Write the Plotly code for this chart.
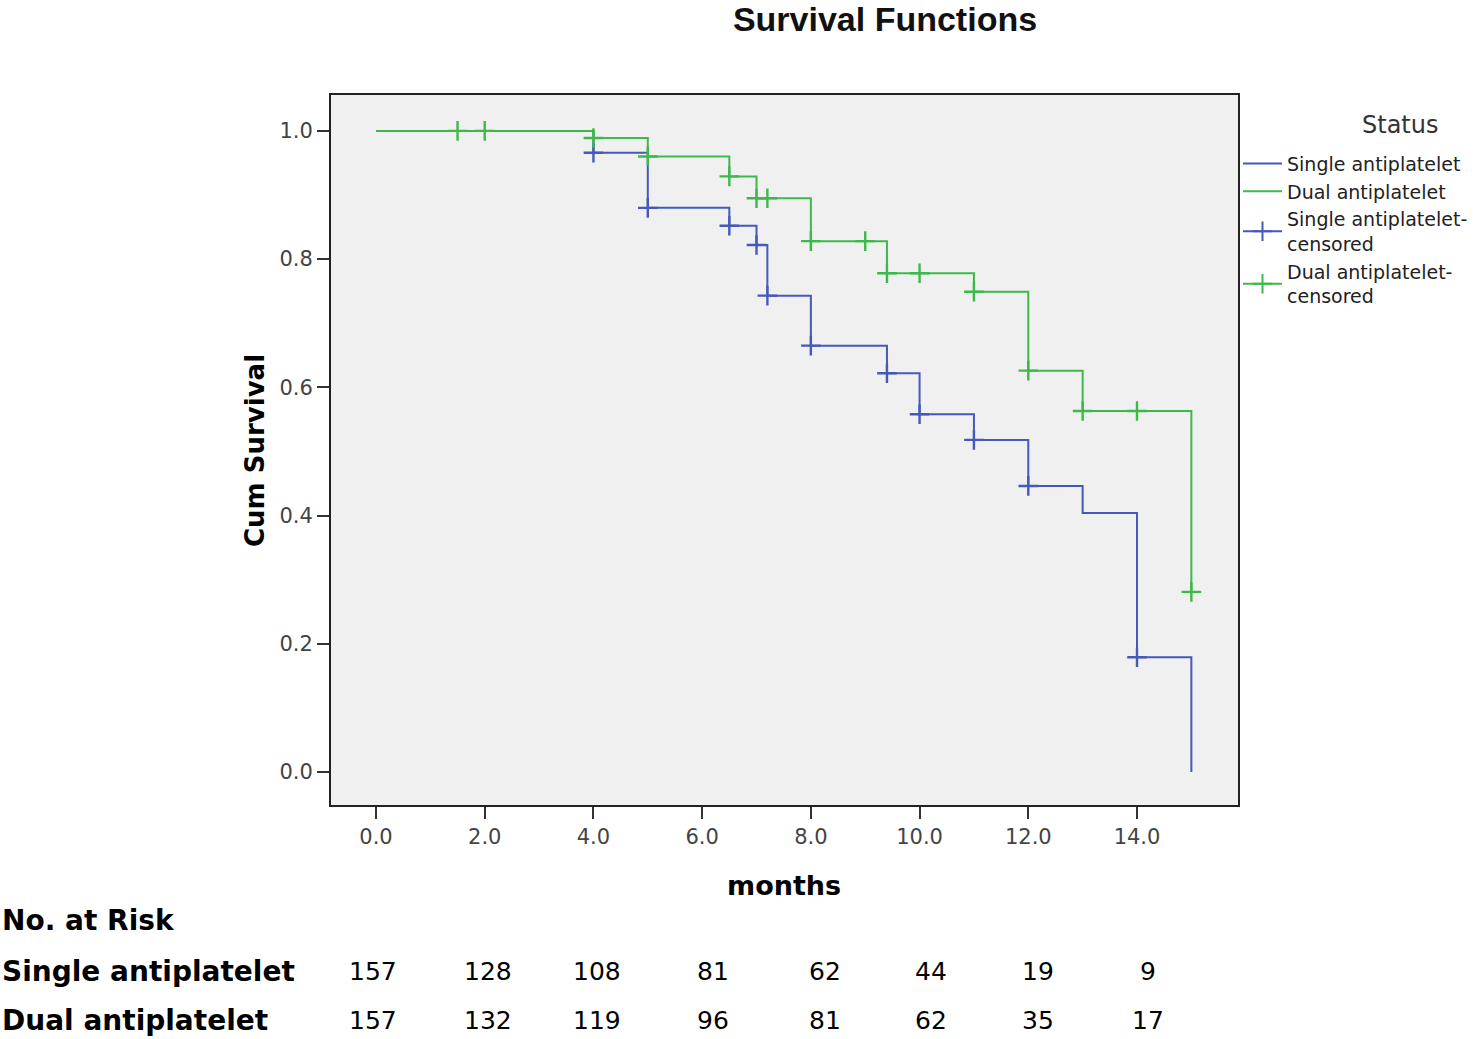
import plotly.graph_objects as go

# Kaplan-Meier steps
single_months = [0, 4, 5, 6.5, 7, 7.2, 8, 9.4, 10, 11, 12, 13, 14, 15]
single_surv = [1.0, 0.966, 0.880, 0.852, 0.822, 0.743, 0.665, 0.622, 0.558, 0.518, 0.446, 0.404, 0.179, 0.0]
single_censored = [4, 5, 6.5, 7, 7.2, 8, 9.4, 10, 11, 12, 14]

dual_months = [0, 4, 5, 6.5, 7, 8, 9.4, 11, 12, 13, 15]
dual_surv = [1.0, 0.989, 0.960, 0.929, 0.895, 0.828, 0.778, 0.749, 0.626, 0.563, 0.281]
dual_censored = [1.5, 2, 4, 5, 6.5, 7, 7.2, 8, 9, 9.4, 10, 11, 12, 13, 14, 15]

risk_months = [0, 2, 4, 6, 8, 10, 12, 14]
risk_single = [157, 128, 108, 81, 62, 44, 19, 9]
risk_dual = [157, 132, 119, 96, 81, 62, 35, 17]

x_ticks = [0, 2, 4, 6, 8, 10, 12, 14]
y_ticks = [0.0, 0.2, 0.4, 0.6, 0.8, 1.0]

BLUE = '#4459b8'
GREEN = '#3cb94a'

W, H = 1482, 1039
risk_xshift = [-3, 3, 4, 11, 14, 11, 10, 11]  # column nudges of the risk table


def step_value(t, times, surv):
    # survival value of the step function at time t
    v = surv[0]
    for tt, s in zip(times, surv):
        if tt <= t:
            v = s
    return v


fig = go.Figure()

fig.add_trace(go.Scatter(x=single_months, y=single_surv, mode='lines', line_shape='hv',
                         line=dict(color=BLUE, width=2), name='Single antiplatelet'))
fig.add_trace(go.Scatter(x=dual_months, y=dual_surv, mode='lines', line_shape='hv',
                         line=dict(color=GREEN, width=2), name='Dual antiplatelet'))

cross = dict(symbol='cross-thin', size=14)
fig.add_trace(go.Scatter(x=single_censored,
                         y=[step_value(t, single_months, single_surv) for t in single_censored],
                         mode='markers', showlegend=False,
                         marker=dict(**cross, line=dict(color=BLUE, width=2.4))))
fig.add_trace(go.Scatter(x=dual_censored,
                         y=[step_value(t, dual_months, dual_surv) for t in dual_censored],
                         mode='markers', showlegend=False,
                         marker=dict(**cross, line=dict(color=GREEN, width=2.4))))

# legend entries for the censor marks (line + cross)
fig.add_trace(go.Scatter(x=[None], y=[None], mode='lines+markers', name='Single antiplatelet-<br>censored',
                         line=dict(color=BLUE, width=2),
                         marker=dict(**cross, line=dict(color=BLUE, width=2))))
fig.add_trace(go.Scatter(x=[None], y=[None], mode='lines+markers', name='Dual antiplatelet-<br>censored',
                         line=dict(color=GREEN, width=2),
                         marker=dict(**cross, line=dict(color=GREEN, width=2))))

# number at risk table
label_font = dict(family='DejaVu Sans', size=28, color='black')
num_font = dict(family='DejaVu Sans', size=25, color='black')
for txt, yy in [('No. at Risk', -0.162), ('Single antiplatelet', -0.234), ('Dual antiplatelet', -0.304)]:
    fig.add_annotation(text=f'<b>{txt}</b>', xref='paper', yref='paper', x=-0.3649, y=yy,
                       xanchor='left', yanchor='middle', showarrow=False, font=label_font)
for m, a, b, dx in zip(risk_months, risk_single, risk_dual, risk_xshift):
    fig.add_annotation(text=str(a), xref='x', yref='paper', x=m, y=-0.234, xshift=dx,
                       showarrow=False, font=num_font, xanchor='center', yanchor='middle')
    fig.add_annotation(text=str(b), xref='x', yref='paper', x=m, y=-0.304, xshift=dx,
                       showarrow=False, font=num_font, xanchor='center', yanchor='middle')

# axis titles
fig.add_annotation(text='<b>months</b>', xref='paper', yref='paper', x=0.4995, y=-0.1127,
                   xanchor='center', yanchor='middle', showarrow=False,
                   font=dict(family='DejaVu Sans', size=27, color='black'))
fig.add_annotation(text='<b>Cum Survival</b>', xref='paper', yref='paper', x=-0.0838, y=0.5,
                   xanchor='center', yanchor='middle', textangle=-90, showarrow=False,
                   font=dict(family='DejaVu Sans', size=26, color='black'))

# legend title
fig.add_annotation(text='Status', xref='paper', yref='paper', x=1.1786, y=0.9577,
                   xanchor='center', yanchor='middle', showarrow=False,
                   font=dict(family='DejaVu Sans', size=24, color='#333'))

axis_common = dict(showgrid=False, zeroline=False, showline=True, mirror=True, linecolor='#222',
                   linewidth=2, ticks='outside', ticklen=12, tickwidth=2, tickcolor='#333',
                   tickfont=dict(family='DejaVu Sans', size=21, color='#444'))

fig.update_layout(
    width=W, height=H, autosize=False,
    margin=dict(l=331, r=W - 331 - 907, t=95, b=H - 95 - 710, autoexpand=False),
    paper_bgcolor='white', plot_bgcolor='#f0f0f0',
    title=dict(text='<b>Survival Functions</b>', x=885 / W, y=1 - 19 / H,
               xref='container', yref='container', xanchor='center', yanchor='middle',
               font=dict(family='Liberation Sans', size=34, color='#111')),
    xaxis=dict(range=[-0.828, 15.858], tickvals=x_ticks, ticktext=[f'{v:.1f}' for v in x_ticks],
               **axis_common),
    yaxis=dict(range=[-0.0515, 1.056], tickvals=y_ticks, ticktext=[f'{v:.1f}' for v in y_ticks],
               **axis_common),
    legend=dict(x=1.0, xanchor='left', y=0.93, yanchor='top', bgcolor='rgba(0,0,0,0)',
                font=dict(family='DejaVu Sans', size=19, color='#222'),
                tracegroupgap=2, itemwidth=39),
)

# drop the browser's default body margin so the figure sits at the page corner
fig.write_html("out.html", config={'displayModeBar': False},
               post_script="document.body.style.margin='0';")
